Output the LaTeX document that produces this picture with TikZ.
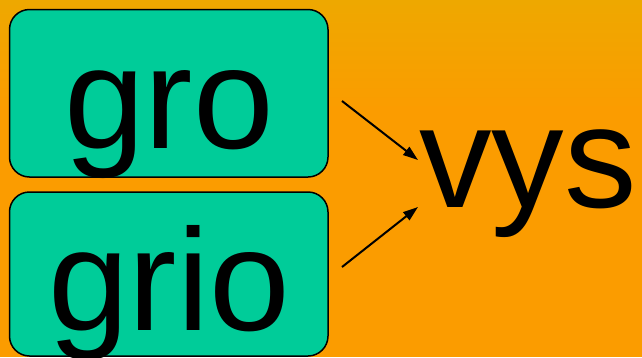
\documentclass[tikz,border=0pt]{standalone}
\usepackage{fontspec}
\setmainfont{Liberation Sans}
\usetikzlibrary{arrows.meta}
\definecolor{bgtop}{HTML}{EEA800}
\definecolor{bgbot}{HTML}{FB9C00}
\definecolor{boxfill}{HTML}{00CC99}
\tikzset{
  wordbox/.style={draw=black, line width=1.5pt, fill=boxfill, rounded corners=20pt},
  bigword/.style={inner sep=0pt, anchor=base, font=\fontsize{145}{145}\selectfont},
  conn/.style={line width=2pt, -{Triangle[length=15pt,width=10pt]}}
}
\begin{document}
\begin{tikzpicture}[x=1pt,y=-1pt]
\useasboundingbox (0,0) rectangle (642,357);
\fill[bgbot] (0,0) rectangle (642,357);
\shade[top color=bgtop, bottom color=bgbot] (0,0) rectangle (642,110);
\path[wordbox] (9.5,9.5) rectangle (328,177);
\path[wordbox] (9.5,192) rectangle (328,356);
\node[bigword] (gro) at (169,148) {gro};
\node[bigword] (grio) at (169,330) {grio};
\node[bigword] (vys) at (528,207) {vys};
\coordinate (a1s) at (342,101);
\coordinate (a1e) at (418,160);
\coordinate (a2s) at (342,267);
\coordinate (a2e) at (418,207);
\draw[conn] (a1s) -- (a1e);
\draw[conn] (a2s) -- (a2e);
\end{tikzpicture}
\end{document}
